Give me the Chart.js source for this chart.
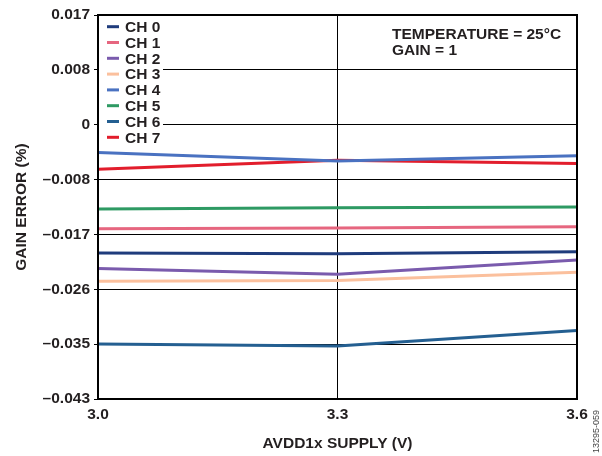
<!DOCTYPE html>
<html>
<head>
<meta charset="utf-8">
<script src="https://cdn.jsdelivr.net/npm/chart.js@4/dist/chart.umd.min.js"></script>
<style>
  html, body { margin: 0; padding: 0; background: #fff; }
  #wrap { width: 602px; height: 456px; position: relative; }
</style>
</head>
<body>
<div id="wrap"><canvas id="gainChart" width="602" height="456"></canvas></div>
<script>
// supply voltages (V)
const supply = [3.0, 3.3, 3.6];
const xTicks = [3.0, 3.3, 3.6];

// gain error (%) per channel
const ch0 = [-0.0202, -0.0203, -0.0200];
const ch1 = [-0.0164, -0.0163, -0.0161];
const ch2 = [-0.0226, -0.0235, -0.0213];
const ch3 = [-0.0246, -0.0245, -0.0232];
const ch4 = [-0.0045, -0.0058, -0.0050];
const ch5 = [-0.0133, -0.0131, -0.0130];
const ch6 = [-0.0344, -0.0347, -0.0323];
const ch7 = [-0.0071, -0.0057, -0.0062];

const channelNames = ['CH 0', 'CH 1', 'CH 2', 'CH 3', 'CH 4', 'CH 5', 'CH 6', 'CH 7'];
const channelColors = ['#1f3c7c', '#e6667f', '#7a5bad', '#fbc09d', '#4a72c1', '#2e9a63', '#245f91', '#e21d2c'];

// y ticks are evenly spaced, labels rounded on the original
const yMax = 0.017;
const yMin = -0.043;
const yTickLabels = ['0.017', '0.008', '0', '\u20130.008', '\u20130.017', '\u20130.026', '\u20130.035', '\u20130.043'];

const notes = ['TEMPERATURE = 25\u00B0C', 'GAIN = 1'];
const figId = '13295-059';

const fontFam = '"Liberation Sans", Arial, sans-serif';
const ink = '#231f20';
const yStep = (yMax - yMin) / (yTickLabels.length - 1);

const series = [ch0, ch1, ch2, ch3, ch4, ch5, ch6, ch7];
const datasets = series.map((vals, i) => ({
    label: channelNames[i],
    data: vals.map((v, j) => ({ x: supply[j], y: v })),
    borderColor: channelColors[i],
    backgroundColor: channelColors[i],
    borderWidth: 3,
    pointRadius: 0,
    tension: 0
}));

// legend inside plot + notes + frame
const extras = {
    id: 'extras',
    beforeDatasetsDraw(chart) {
        // legend sits on a white patch that hides the grid lines
        const a = chart.chartArea;
        chart.ctx.save();
        chart.ctx.fillStyle = '#fff';
        chart.ctx.fillRect(a.left + 1, a.top + 1, 64, 132);
        chart.ctx.restore();
    },
    afterDatasetsDraw(chart) {
        const ctx = chart.ctx;
        const a = chart.chartArea;
        ctx.save();
        // frame
        ctx.strokeStyle = '#000';
        ctx.lineWidth = 2;
        ctx.strokeRect(a.left, a.top, a.right - a.left, a.bottom - a.top);

        // legend
        ctx.font = 'bold 15.5px ' + fontFam;
        ctx.textBaseline = 'middle';
        ctx.textAlign = 'left';
        chart.data.datasets.forEach((ds, i) => {
            const y = a.top + 11.7 + i * 15.8;
            ctx.strokeStyle = ds.borderColor;
            ctx.lineWidth = 3;
            ctx.beginPath();
            ctx.moveTo(a.left + 9, y);
            ctx.lineTo(a.left + 21, y);
            ctx.stroke();
            ctx.fillStyle = ink;
            ctx.fillText(ds.label, a.left + 27, y + 1);
        });

        // conditions
        ctx.textBaseline = 'alphabetic';
        notes.forEach((t, i) => ctx.fillText(t, 392, 39 + i * 16));

        // figure id
        ctx.font = '9px ' + fontFam;
        ctx.fillStyle = '#444';
        ctx.translate(597, 453);
        ctx.rotate(-Math.PI / 2);
        ctx.textBaseline = 'middle';
        ctx.fillText(figId, 0, 0);
        ctx.restore();
    }
};

new Chart(document.getElementById('gainChart'), {
    type: 'line',
    data: { datasets: datasets },
    options: {
        responsive: false,
        animation: false,
        layout: { padding: { left: 0, top: 15, right: 25, bottom: 0 } },
        plugins: { legend: { display: false }, tooltip: { enabled: false } },
        scales: {
            x: {
                type: 'linear',
                min: 3.0,
                max: 3.6,
                afterBuildTicks: s => { s.ticks = xTicks.map(v => ({ value: v })); },
                afterFit: s => { s.height = 57; },
                ticks: {
                    color: ink,
                    font: { family: fontFam, size: 15.5, weight: 'bold' },
                    padding: 6,
                    maxRotation: 0,
                    callback: v => v.toFixed(1)
                },
                grid: {
                    drawTicks: false,
                    lineWidth: 1,
                    color: c => (c.tick && c.tick.value > 3.0 && c.tick.value < 3.6) ? '#000' : 'rgba(0,0,0,0)'
                },
                border: { display: false },
                title: {
                    display: true,
                    text: 'AVDD1x SUPPLY (V)',
                    color: ink,
                    font: { family: fontFam, size: 15.5, weight: 'bold' },
                    padding: { top: 0, bottom: 3 }
                }
            },
            y: {
                min: yMin,
                max: yMax,
                afterBuildTicks: s => {
                    s.ticks = yTickLabels.map((l, i) => ({ value: yMax - i * yStep })).reverse();
                },
                afterFit: s => { s.width = 98; },
                ticks: {
                    color: ink,
                    font: { family: fontFam, size: 15.5, weight: 'bold' },
                    padding: 4,
                    callback: v => yTickLabels[Math.round((yMax - v) / yStep)]
                },
                grid: {
                    color: '#000',
                    lineWidth: 1,
                    tickLength: 4,
                    tickColor: '#000'
                },
                border: { display: false },
                title: {
                    display: true,
                    text: 'GAIN ERROR (%)',
                    color: ink,
                    font: { family: fontFam, size: 15.5, weight: 'bold' },
                    padding: { top: 12, bottom: 0 }
                }
            }
        }
    },
    plugins: [extras]
});
</script>
</body>
</html>
